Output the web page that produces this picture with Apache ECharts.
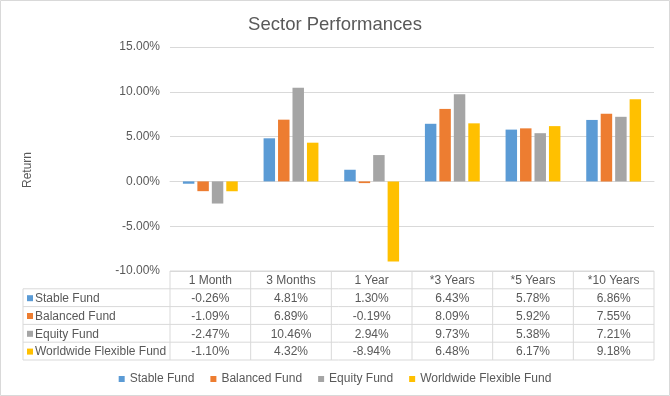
<!DOCTYPE html>
<html>
<head>
    <meta charset="utf-8">
    <title>Sector Performances</title>
    <script src="https://cdn.jsdelivr.net/npm/echarts@6/dist/echarts.min.js"></script>
    <style>
        html, body { margin: 0; padding: 0; background: #fff; }
        #main { width: 670px; height: 396px; }
    </style>
</head>
<body>
    <div id="main"></div>
    <script type="text/javascript">
        // periods (categories) and fund returns in %
        var periods = ['1 Month', '3 Months', '1 Year', '*3 Years', '*5 Years', '*10 Years'];
        var fundNames = ['Stable Fund', 'Balanced Fund', 'Equity Fund', 'Worldwide Flexible Fund'];
        var stableFund = [-0.26, 4.81, 1.30, 6.43, 5.78, 6.86];
        var balancedFund = [-1.09, 6.89, -0.19, 8.09, 5.92, 7.55];
        var equityFund = [-2.47, 10.46, 2.94, 9.73, 5.38, 7.21];
        var worldwideFund = [-1.10, 4.32, -8.94, 6.48, 6.17, 9.18];
        var colors = ['#5B9BD5', '#ED7D31', '#A5A5A5', '#FFC000'];

        var fundValues = [stableFund, balancedFund, equityFund, worldwideFund];
        var font = 'Liberation Sans';
        var textColor = '#595959';
        var lineColor = '#D9D9D9';

        var myChart = echarts.init(document.getElementById('main'));

        var option = {
            animation: false,
            color: colors,
            title: {
                text: 'Sector Performances',
                left: 'center',
                top: 10,
                textStyle: { fontFamily: font, fontSize: 18.5, fontWeight: 'normal', color: textColor }
            },
            legend: {
                bottom: 6,
                left: 'center',
                icon: 'rect',
                itemWidth: 6,
                itemHeight: 6,
                itemGap: 16,
                textStyle: { fontFamily: font, fontSize: 12, color: textColor },
                data: fundNames
            },
            grid: { left: 170, right: 16, top: 47, bottom: 125 },
            xAxis: {
                type: 'category',
                data: periods,
                axisLine: { onZero: true, lineStyle: { color: lineColor } },
                axisTick: { show: false },
                axisLabel: { show: false }
            },
            yAxis: {
                type: 'value',
                min: -10,
                max: 15,
                interval: 5,
                axisLine: { show: false },
                axisTick: { show: false },
                axisLabel: {
                    margin: 10,
                    fontFamily: font, fontSize: 12, color: textColor,
                    formatter: function (v) { return v.toFixed(2) + '%'; }
                },
                splitLine: { lineStyle: { color: lineColor } }
            },
            series: fundNames.map(function (name, i) {
                return {
                    name: name,
                    type: 'bar',
                    data: fundValues[i],
                    barGap: '26%',
                    barCategoryGap: '32%'
                };
            })
        };

        myChart.setOption(option);

        // data table under the plot, laid out from the axis positions
        var x0 = myChart.convertToPixel({ xAxisIndex: 0 }, 0);
        var x1 = myChart.convertToPixel({ xAxisIndex: 0 }, 1);
        var colW = x1 - x0;
        var tableLeft = x0 - colW / 2;
        var tableRight = tableLeft + colW * periods.length;
        var headerTop = myChart.convertToPixel({ yAxisIndex: 0 }, -10);
        var rowH = 17.8;
        var labelLeft = 23;
        var g = [];

        function line(xa, ya, xb, yb) {
            g.push({
                type: 'line',
                silent: true,
                shape: { x1: xa, y1: ya, x2: xb, y2: yb },
                style: { stroke: lineColor, lineWidth: 1 }
            });
        }
        function text(str, x, y, align) {
            g.push({
                type: 'text',
                silent: true,
                x: x, y: y,
                style: {
                    text: str, fill: textColor, font: '12px ' + font,
                    align: align, verticalAlign: 'middle'
                }
            });
        }

        var bottom = headerTop + rowH * (fundNames.length + 1);
        // horizontal lines
        line(tableLeft, headerTop, tableRight, headerTop);
        for (var r = 1; r <= fundNames.length + 1; r++) {
            line(labelLeft, headerTop + rowH * r, tableRight, headerTop + rowH * r);
        }
        // vertical lines
        line(labelLeft, headerTop + rowH, labelLeft, bottom);
        for (var c = 0; c <= periods.length; c++) {
            line(tableLeft + colW * c, headerTop, tableLeft + colW * c, bottom);
        }
        // header
        periods.forEach(function (p, c) {
            text(p, tableLeft + colW * (c + 0.5), headerTop + rowH / 2 + 1, 'center');
        });
        // rows
        fundNames.forEach(function (name, r) {
            var yc = headerTop + rowH * (r + 1.5) + 1;
            g.push({
                type: 'rect',
                silent: true,
                shape: { x: labelLeft + 4, y: yc - 3.5, width: 6, height: 6 },
                style: { fill: colors[r] }
            });
            text(name, labelLeft + 12, yc, 'left');
            fundValues[r].forEach(function (v, c) {
                text(v.toFixed(2) + '%', tableLeft + colW * (c + 0.5), yc, 'center');
            });
        });
        // axis title
        g.push({
            type: 'text',
            silent: true,
            x: 28, y: 170,
            rotation: Math.PI / 2,
            style: {
                text: 'Return', fill: textColor, font: '12px ' + font,
                align: 'center', verticalAlign: 'middle'
            }
        });
        // chart border
        g.push({
            type: 'rect',
            silent: true,
            shape: { x: 0.5, y: 0.5, width: 669, height: 395 },
            style: { fill: 'none', stroke: lineColor, lineWidth: 1 }
        });

        myChart.setOption({ graphic: g });
    </script>
</body>
</html>
